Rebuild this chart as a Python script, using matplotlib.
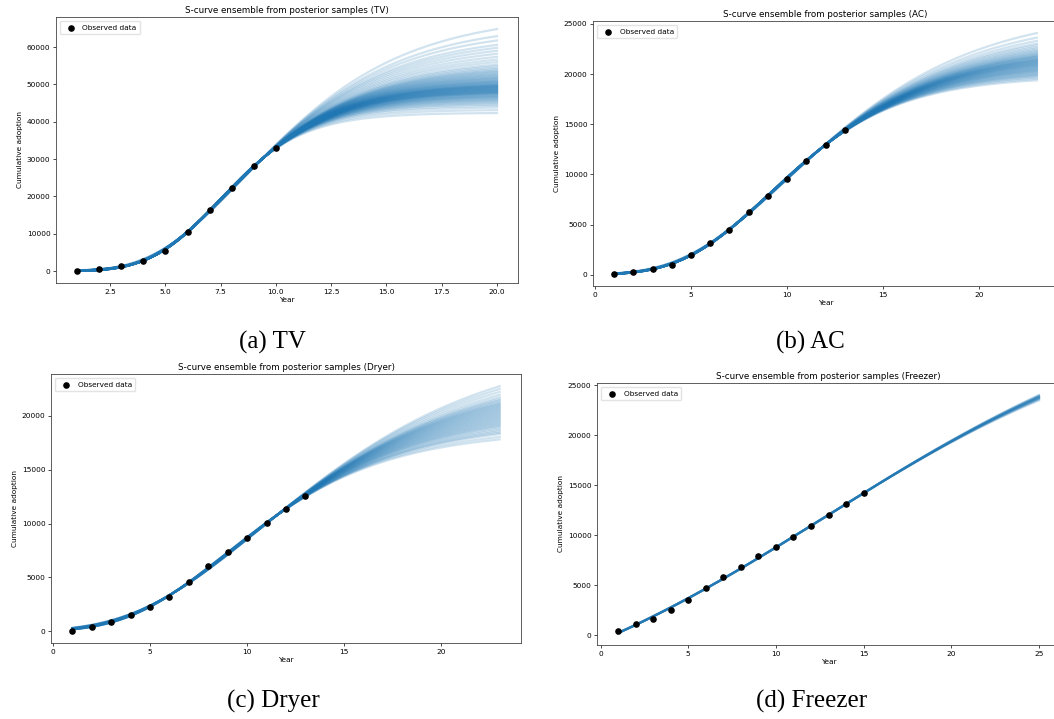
import numpy as np
import matplotlib.pyplot as plt

# observed cumulative adoption
tv_years = [1, 2, 3, 4, 5, 6, 7, 8, 9, 10]
tv_obs = [90, 640, 1370, 2820, 5460, 10560, 16300, 22300, 28220, 32870]

ac_years = [1, 2, 3, 4, 5, 6, 7, 8, 9, 10, 11, 12, 13]
ac_obs = [100, 300, 570, 940, 1970, 3175, 4445, 6280, 7890, 9560, 11330, 12935, 14440]

dryer_years = [1, 2, 3, 4, 5, 6, 7, 8, 9, 10, 11, 12, 13]
dryer_obs = [60, 430, 890, 1540, 2280, 3170, 4560, 6070, 7400, 8630, 10050, 11340, 12570]

freezer_years = [1, 2, 3, 4, 5, 6, 7, 8, 9, 10, 11, 12, 13, 14, 15]
freezer_obs = [440, 1180, 1650, 2520, 3570, 4710, 5790, 6800, 7910, 8850, 9790, 10900, 12080, 13120, 14200]

# posterior samples of the market potential m (estimated from the spread of the fan)
tv_m = [42400, 43200, 43900, 44400, 44800, 45100,
        45400, 45650, 45900, 46100, 46300, 46500, 46700, 46850, 47000, 47150,
        47300, 47450, 47600, 47750, 47900, 48000, 48100, 48200, 48300, 48400,
        48500, 48600, 48700, 48800, 48900, 49000, 49100, 49200, 49300, 49400,
        49500, 49600, 49700, 49800, 49900, 50000, 50100, 50200, 50300, 50400,
        50500, 50600, 50750, 50900, 51050, 51200, 51350, 51500, 51650, 51800,
        52000, 52200, 52400, 52600, 52800, 53000, 53250, 53500, 53750, 54000,
        54300, 54600, 54900, 55200, 55600, 56000, 56500, 57000,
        57800, 58600, 59500, 60500, 61500, 62500, 63500, 65000, 66500, 69000]
ac_m = [19800, 20000, 20150,
        20300, 20400, 20500, 20600, 20700, 20800, 20900, 20980, 21060, 21140,
        21220, 21300, 21380, 21460, 21540, 21620, 21700, 21770, 21840, 21910,
        21980, 22050, 22120, 22190, 22260, 22330, 22400, 22470, 22540, 22610,
        22680, 22750, 22830, 22910, 22990, 23070, 23150, 23250, 23350, 23450, 23550,
        23700, 23850, 24000, 24200, 24400, 24650, 24900, 25300, 25800, 26500]
dryer_m = [18650, 19000,
           19400, 19600, 19800, 20000, 20200, 20400, 20550, 20700, 20850, 21000,
           21150, 21300, 21450, 21600, 21750, 21900, 22050, 22200, 22350, 22500,
           22650, 22800, 22950, 23100, 23250, 23400, 23550, 23700, 23850, 24000,
           24200, 24400, 24600,
           24900, 25300, 25800, 26300, 26800]
freezer_m = [32500, 32900, 33200, 33400, 33600, 33750, 33900, 34050, 34200,
             34350, 34500, 34650, 34800, 35000, 35200, 35600]

panels = [
    ("TV", tv_years, tv_obs, tv_m, 20, "(a) TV"),
    ("AC", ac_years, ac_obs, ac_m, 23, "(b) AC"),
    ("Dryer", dryer_years, dryer_obs, dryer_m, 23, "(c) Dryer"),
    ("Freezer", freezer_years, freezer_obs, freezer_m, 25, "(d) Freezer"),
]

# axes boxes in pixels: left, right, top, bottom (right ones run off the canvas)
W, H = 1054, 719
px_boxes = [(56, 518, 17, 283), (593, 1058, 21, 286), (51, 521, 374, 643), (597, 1060, 383, 645)]
captions_xy = [(272, 342), (810, 342), (273, 701), (812, 701)]


def richards(t, m, th):
    k, t0, nu = np.exp(th[0]), th[1], np.exp(th[2])
    with np.errstate(over='ignore', divide='ignore', invalid='ignore'):
        return m * np.exp(-np.log1p(nu * np.exp(-k * (t - t0))) / nu)


def bass(t, m, th):
    p, q, t0 = np.exp(th[0]), np.exp(th[1]), th[2]
    with np.errstate(over='ignore', invalid='ignore'):
        e = np.exp(-(p + q) * (t - t0))
        return np.clip(m * (1 - e) / (1 + (q / p) * e), 0, None)


def lm_fit(model, t, y, m, th):
    # Levenberg-Marquardt with m held fixed
    sc = y.max()

    def res(th):
        return (model(t, m, th) - y) / sc

    r = res(th)
    cost = (r ** 2).sum()
    lam = 1e-3
    n = len(th)
    for _ in range(80):
        J = np.empty((len(t), n))
        for c in range(n):
            d = np.zeros(n)
            d[c] = 1e-6
            J[:, c] = (res(th + d) - r) / 1e-6
        A = J.T @ J
        g = J.T @ r
        try:
            step = np.linalg.solve(A + lam * np.diag(np.diag(A) + 1e-12), -g)
        except np.linalg.LinAlgError:
            break
        new = th + step
        rn = res(new)
        cn = (rn ** 2).sum()
        if np.isfinite(cn) and cn < cost:
            th, r, cost = new, rn, cn
            lam /= 3
        else:
            lam *= 3
    return th


def fit_richards(t, y, m):
    K = np.log(np.linspace(0.05, 1.5, 30))
    T0 = np.linspace(0, 30, 41)
    LN = np.linspace(-4, 2, 17)
    F = richards(t, m, (K[:, None, None, None], T0[None, :, None, None], LN[None, None, :, None]))
    sse = np.nan_to_num(((F - y) ** 2).sum(-1), nan=1e30)
    i, j, l = np.unravel_index(np.argmin(sse), sse.shape)
    return lm_fit(richards, t, y, m, np.array([K[i], T0[j], LN[l]]))


def fit_bass(t, y, m):
    LP = np.linspace(np.log(1e-4), np.log(0.3), 60)
    LQ = np.linspace(np.log(1e-3), np.log(1.5), 60)
    F = bass(t, m, (LP[:, None, None], LQ[None, :, None], 0.0))
    sse = ((F - y) ** 2).sum(-1)
    i, j = np.unravel_index(np.argmin(sse), sse.shape)
    return lm_fit(bass, t, y, m, np.array([LP[i], LQ[j], 0.0]))


fig = plt.figure(figsize=(W / 100, H / 100), dpi=100)

for (name, yrs, obs, ms, tend, cap), (l, r, tp, b), (cx, cy) in zip(panels, px_boxes, captions_xy):
    ax = fig.add_axes([l / W, 1 - b / H, (r - l) / W, (b - tp) / H])
    t = np.asarray(yrs, float)
    y = np.asarray(obs, float)
    model, fitter = (bass, fit_bass) if name == "Freezer" else (richards, fit_richards)
    tt = np.linspace(yrs[0], tend, 200)
    for m in ms:
        th = fitter(t, y, m)
        ax.plot(tt, model(tt, m, th), color='#1f77b4', alpha=0.2, lw=1.6)
    ax.scatter(yrs, obs, color='black', s=14, zorder=5, label='Observed data')
    ax.set_title(f"S-curve ensemble from posterior samples ({name})", fontsize=6.3, pad=3)
    ax.set_xlabel("Year", fontsize=5.3, labelpad=2)
    ax.set_ylabel("Cumulative adoption", fontsize=5.3, labelpad=3)
    ax.tick_params(labelsize=5.3, length=2, width=0.5, pad=2)
    for s in ax.spines.values():
        s.set_linewidth(0.6)
        s.set_color('#444444')
    ax.legend(loc='upper left', fontsize=5.3, frameon=True, borderpad=0.5,
              handletextpad=0.6, framealpha=0.8, edgecolor='#dddddd')
    fig.text(cx / W, 1 - cy / H, cap, ha='center', va='center',
             fontsize=18, family='Liberation Serif')

fig.savefig("out.png", dpi=100)
